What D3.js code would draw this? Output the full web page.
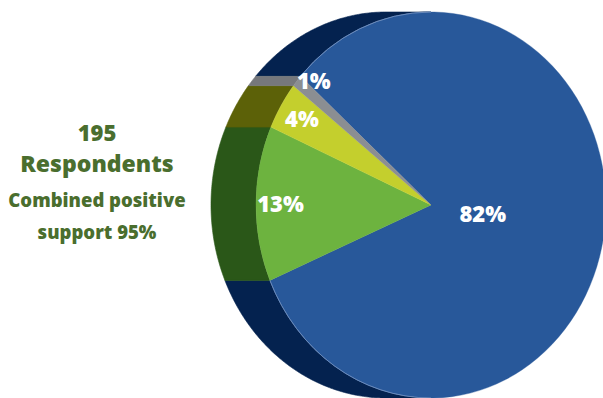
<!DOCTYPE html>
<html>
<head>
<meta charset="utf-8">
<script src="https://cdn.jsdelivr.net/npm/d3@7"></script>
<style>
  html, body { margin: 0; padding: 0; background: #ffffff; }
  svg { display: block; }
  text { font-family: "Open Sans", "Noto Sans", sans-serif; font-weight: 800; }
</style>
</head>
<body>
<svg id="chart" width="603" height="398"></svg>
<script>
// Survey response shares (percent)
const categories = ["Strongly support", "Support", "Neutral", "Oppose"];
const values = [82, 13, 4, 1];
const labels = ["82%", "13%", "4%", "1%"];
const faceColors = ["#28589a", "#6db33f", "#c4cf2d", "#8b8e92"];
const sideColors = ["#04224f", "#2a5718", "#5c6108", "#76787c"];
const captionLines = ["195", "Respondents", "Combined positive", "support 95%"];

const W = 603, H = 398;
const svg = d3.select("#chart");

// Tilted disc: front face is an ellipse, the rim extrudes to the left
const cx = 431, cy = 205, rx = 175, ry = 193, depth = 45;
const startAngle = 311.8 * Math.PI / 180;

const pie = d3.pie().sort(null).value(d => d)
  .startAngle(startAngle).endAngle(startAngle + 2 * Math.PI);
const arcs = pie(values);

// point on the ellipse at a d3 pie angle, shifted horizontally by dx
const pt = (a, dx = 0) => [cx + rx * Math.sin(a) + dx, cy - ry * Math.cos(a)];

function rimPath(a0, a1) {
  const n = Math.max(2, Math.ceil((a1 - a0) / 0.01));
  const angs = d3.range(n + 1).map(i => a0 + (a1 - a0) * i / n);
  const front = angs.map(a => pt(a, 0));
  const back = angs.slice().reverse().map(a => pt(a, -depth));
  return d3.line()(front.concat(back)) + "Z";
}

// Rim: only the left half of the disc edge is visible
const rim = svg.append("g");
arcs.forEach((d, i) => {
  [-1, 0, 1].forEach(k => {
    const a0 = Math.max(d.startAngle + 2 * Math.PI * k, Math.PI);
    const a1 = Math.min(d.endAngle + 2 * Math.PI * k, 2 * Math.PI);
    if (a1 > a0) {
      rim.append("path")
        .attr("d", rimPath(a0, a1))
        .attr("fill", sideColors[i])
        .attr("stroke", sideColors[i])
        .attr("stroke-width", 0.6);
    }
  });
});

// Front face
const face = svg.append("g")
  .attr("transform", `translate(${cx},${cy}) scale(${rx / ry},1)`);
const arc = d3.arc().innerRadius(0).outerRadius(ry);
face.selectAll("path").data(arcs).join("path")
  .attr("d", arc)
  .attr("fill", (d, i) => faceColors[i])
  .attr("stroke", (d, i) => faceColors[i])
  .attr("stroke-width", 0.4);

// faint highlight where the blue face meets its rim
const hl = d3.arc().innerRadius(ry).outerRadius(ry);
[[Math.PI, arcs[0].endAngle - 2 * Math.PI], [arcs[0].startAngle, 2 * Math.PI]].forEach(([a0, a1]) => {
  face.append("path")
    .attr("d", hl.startAngle(a0).endAngle(a1)())
    .attr("fill", "none")
    .attr("stroke", "#7f9cc9")
    .attr("stroke-width", 0.7)
    .attr("opacity", 0.7);
});

// Percentage labels: large slice near the centre, thin slice at its rim
function labelPos(d) {
  const m = (d.startAngle + d.endAngle) / 2;
  const f = d.data > 50 ? 0.3 : d.data < 2 ? 1.0 : 0.86;
  return [cx + rx * f * Math.sin(m), cy - ry * f * Math.cos(m)];
}
svg.append("g").selectAll("text").data(arcs).join("text")
  .attr("x", d => labelPos(d)[0])
  .attr("y", d => labelPos(d)[1])
  .attr("dy", "0.36em")
  .attr("text-anchor", d => d.data < 2 ? "start" : "middle")
  .attr("fill", "#ffffff")
  .attr("font-size", 22)
  .text((d, i) => labels[i]);

// Caption on the left
const cap = svg.append("g").attr("fill", "#4a6e2e").attr("text-anchor", "middle");
const capY = [141, 172, 207, 239];
const capSize = [22, 23, 18.5, 18.5];
captionLines.forEach((t, i) => {
  cap.append("text")
    .attr("x", 97)
    .attr("y", capY[i])
    .attr("font-size", capSize[i])
    .text(t);
});
</script>
</body>
</html>
